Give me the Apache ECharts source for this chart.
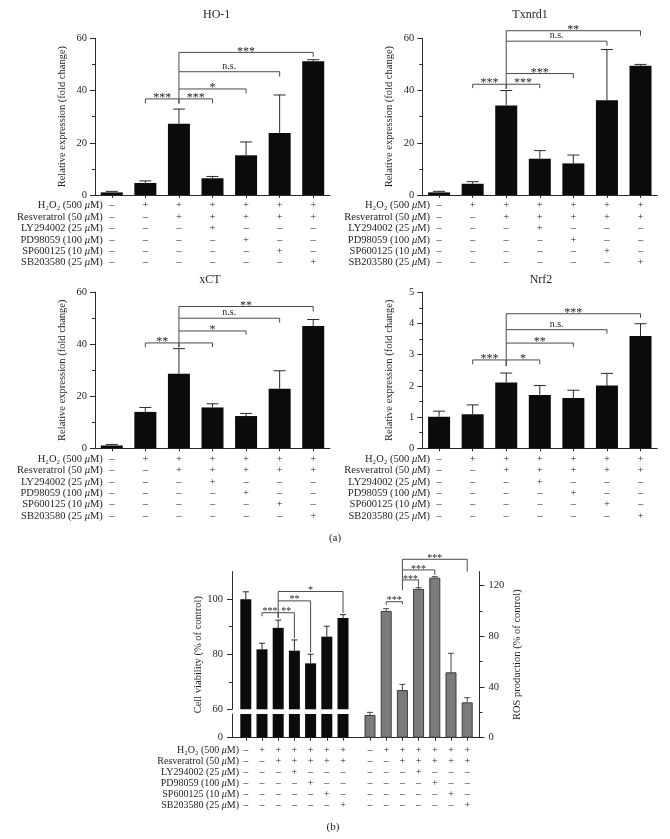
<!DOCTYPE html>
<html><head><meta charset="utf-8">
<script src="https://cdn.jsdelivr.net/npm/echarts@6/dist/echarts.min.js"></script>
<style>html,body{margin:0;padding:0;background:#fff}#c{width:670px;height:839px}</style>
</head><body><div id="c"></div>
<script>
const FONT = '"Liberation Serif","Times New Roman","DejaVu Serif",serif';
const INK = '#1e1e1e';

// ---- treatment table (tick labels) ----
const treatmentNames = ['H₂O₂ (500 μM)','Resveratrol (50 μM)','LY294002 (25 μM)','PD98059 (100 μM)','SP600125 (10 μM)','SB203580 (25 μM)'];
const treatmentSigns = [
  ['–','+','+','+','+','+','+'],
  ['–','–','+','+','+','+','+'],
  ['–','–','–','+','–','–','–'],
  ['–','–','–','–','+','–','–'],
  ['–','–','–','–','–','+','–'],
  ['–','–','–','–','–','–','+']
];
const columnLabels = treatmentSigns[0].map((_, c) => treatmentSigns.map(r => r[c]).join('\n'));

// ---- panel (a) values ----
const panelTitles = ['HO-1','Txnrd1','xCT','Nrf2'];
const ho1Mean = [1.0, 4.6, 27.3, 6.4, 15.2, 23.7, 51.2];
const ho1Err  = [1.4, 5.4, 32.9, 7.1, 20.3, 38.3, 51.8];
const txnMean = [1.0, 4.3, 34.3, 13.9, 12.1, 36.3, 49.5];
const txnErr  = [1.4, 5.1, 40.0, 17.0, 15.3, 55.7, 50.0];
const xctMean = [1.1, 14.0, 28.7, 15.7, 12.4, 22.9, 47.0];
const xctErr  = [1.5, 15.7, 38.3, 17.1, 13.4, 29.8, 49.5];
const nrfMean = [1.01, 1.09, 2.11, 1.71, 1.61, 2.01, 3.60];
const nrfErr  = [1.19, 1.39, 2.41, 2.01, 1.86, 2.40, 3.99];
const yMaxA = [60, 60, 60, 5];
const yStepA = [20, 20, 20, 1];

// brackets: [fromBar, toBar, height, fromEnd, toEnd]
const ho1Brackets = [[1,2,36.8,35.1,35.0],[2,3,36.8,35.0,35.1],[2,4,40.6,36.8,38.9],[2,5,47.2,40.6,45.3],[2,6,54.6,47.2,52.9]];
const ho1Marks = ['***','***','*','n.s.','***'];
const txnBrackets = [[1,2,42.4,40.9,40.6],[2,3,42.4,40.6,40.9],[2,4,46.5,42.4,44.7],[2,5,58.9,46.5,57.1],[2,6,62.9,58.9,61.0]];
const txnMarks = ['***','***','***','n.s.','**'];
const xctBrackets = [[1,2,40.5,38.9,38.8],[2,3,40.5,38.8,38.9],[2,4,45.1,40.5,43.7],[2,5,50.0,45.1,48.3],[2,6,54.5,50.0,52.6]];
const xctMarks = ['**','','*','n.s.','**'];
const nrfBrackets = [[1,2,2.83,2.69,2.63],[2,3,2.83,2.63,2.69],[2,4,3.37,2.83,3.25],[2,5,3.80,3.37,3.67],[2,6,4.31,3.80,4.18]];
const nrfMarks = ['***','*','**','n.s.','***'];

// ---- panel (b) values ----
const cellMean = [100, 81.8, 89.6, 81.3, 76.7, 86.4, 93.2];
const cellErr  = [102.7, 84.0, 92.4, 85.2, 80.0, 90.2, 94.4];
const rosMean  = [17.9, 100, 37.6, 117.4, 126.3, 51.6, 27.9];
const rosErr   = [20.0, 101.8, 42.1, 118.4, 127.1, 66.6, 31.6];
const cellBrackets = [[1,2,95.1,93.8,93.2],[2,3,95.1,93.2,85.8],[2,4,99.4,95.1,80.6],[2,6,102.8,99.4,95.0]];
const cellMarks = ['***','**','**','*'];
const rosBrackets = [[1,2,107.3,104.7,105.3],[2,3,124.5,116.6,119.2],[2,4,132.4,124.5,128.4],[2,6,140.8,132.4,131.0]];
const rosMarks = ['***','***','***','***'];
const cellTicks = [60, 80, 100], cellMinor = [70, 90];
const rosTicks = [0, 40, 80, 120], rosMinor = [20, 60, 100];

// ---- layout ----
const A = [
  {left:95, top:38.3, height:156.7, tx:216.7, ty:15},
  {left:422.3, top:38.3, height:156.7, tx:530, ty:15},
  {left:95, top:292.2, height:156.1, tx:210, ty:280},
  {left:422.3, top:292.2, height:156.1, tx:541, ty:280}
];
const AW = 235;
const B = {cellLeft:237.7, rosLeft:361.9, gw:113.4, top:571.7, upperBottom:709.3, lowerTop:714, base:737.7, axisL:232, axisR:479.5};

const grid = [], xAxis = [], yAxis = [], series = [], graphic = [];

function txt(text, x, y, fs, align, extra) {
  return Object.assign({type:'text', x, y, silent:true, style:{text, fill:INK, fontFamily:FONT, fontSize:fs,
    align, verticalAlign:'middle', textAlign:align, textVerticalAlign:'middle'}}, extra || {});
}
function richName(name, x, y, fs) {
  const p = name.split('μ');
  return {type:'text', x, y, silent:true, style:{
    text:'{n|' + p[0] + '}{i|μ}{n|' + p[1] + '}', fill:INK, fontFamily:FONT, fontSize:fs,
    align:'right', verticalAlign:'middle', textAlign:'right', textVerticalAlign:'middle',
    rich:{n:{fontFamily:FONT, fontSize:fs, fill:INK, color:INK}, i:{fontFamily:FONT, fontSize:fs, fontStyle:'italic', fill:INK, color:INK}}}};
}
function addTable(firstColX, gap, axisY, margin, lh, fs) {
  treatmentNames.forEach((nm, k) => graphic.push(richName(nm, firstColX - gap, axisY + margin + lh * (k + 0.5), fs)));
}
function errSeries(xi, yi, mean, err, capW, color) {
  return {type:'custom', xAxisIndex:xi, yAxisIndex:yi, silent:true, z:3,
    data: mean.map((m, i) => [i, err[i], m]), encode:{x:0, y:1},
    renderItem: (params, api) => {
      const i = api.value(0);
      const t = api.coord([i, api.value(1)]);
      const b = api.coord([i, api.value(2)]);
      const st = {stroke:color, lineWidth:1};
      return {type:'group', children:[
        {type:'line', shape:{x1:t[0], y1:b[1], x2:t[0], y2:t[1]}, style:st},
        {type:'line', shape:{x1:t[0]-capW/2, y1:t[1], x2:t[0]+capW/2, y2:t[1]}, style:st}
      ]};
    }};
}
function bracketSeries(xi, yi, brackets, marks, starSize) {
  return {type:'custom', xAxisIndex:xi, yAxisIndex:yi, silent:true, clip:false, z:4,
    data: brackets, encode:{x:0, y:2},
    renderItem: (params, api) => {
      const a = api.value(0), b = api.value(1), h = api.value(2);
      const pA = api.coord([a, api.value(3)]), pA2 = api.coord([a, h]);
      const pB2 = api.coord([b, h]), pB = api.coord([b, api.value(4)]);
      const lab = marks[params.dataIndex];
      const star = lab.indexOf('*') >= 0;
      const ch = [{type:'polyline', shape:{points:[pA, pA2, pB2, pB]}, style:{stroke:'#4a4a4a', lineWidth:1, fill:null}}];
      if (lab) ch.push({type:'text', style:{text:lab, x:(pA2[0]+pB2[0])/2, y:pA2[1] - (star ? 1 : 5.5),
        fill:INK, fontFamily:FONT, fontSize: star ? starSize : 10,
        align:'center', verticalAlign:'middle', textAlign:'center', textVerticalAlign:'middle'}});
      return {type:'group', children:ch};
    }};
}
const axisLineStyle = {color:'#2a2a2a', width:1};
const tickLabel = {fontFamily:FONT, fontSize:10.5, color:INK};

// ---- panel (a) ----
const meansA = [ho1Mean, txnMean, xctMean, nrfMean];
const errsA = [ho1Err, txnErr, xctErr, nrfErr];
const brA = [ho1Brackets, txnBrackets, xctBrackets, nrfBrackets];
const mkA = [ho1Marks, txnMarks, xctMarks, nrfMarks];
A.forEach((L, k) => {
  grid.push({left:L.left, top:L.top, width:AW, height:L.height, containLabel:false, outerBoundsMode:'none'});
  xAxis.push({type:'category', gridIndex:k, data:columnLabels,
    axisLine:{show:true, lineStyle:axisLineStyle},
    axisTick:{show:true, alignWithLabel:true, length:3, lineStyle:axisLineStyle},
    axisLabel:{interval:0, margin:5, lineHeight:11.4, fontSize:10.5, fontFamily:FONT, color:INK}});
  yAxis.push({type:'value', gridIndex:k, min:0, max:yMaxA[k], interval:yStepA[k],
    axisLine:{show:true, lineStyle:axisLineStyle},
    axisTick:{show:true, length:5, lineStyle:axisLineStyle},
    minorTick:{show:true, splitNumber:2, length:3, lineStyle:axisLineStyle},
    splitLine:{show:false},
    axisLabel:Object.assign({margin:8}, tickLabel),
    name:'Relative expression (fold change)', nameLocation:'middle', nameGap:27.5,
    nameTextStyle:{fontFamily:FONT, fontSize:10.5, color:INK}});
  series.push({type:'bar', xAxisIndex:k, yAxisIndex:k, data:meansA[k], barWidth:22, silent:true,
    itemStyle:{color:'#0b0b0b'}});
  series.push(errSeries(k, k, meansA[k], errsA[k], 12, '#2a2a2a'));
  series.push(bracketSeries(k, k, brA[k], mkA[k], 12));
  graphic.push(txt(panelTitles[k], L.tx, L.ty, 12, 'center'));
  addTable(L.left + AW / 14, 9, L.top + L.height, 5, 11.4, 10.5);
});
graphic.push(txt('(a)', 335, 538, 11, 'center'));

// ---- panel (b) ----
// grid 4: cell viability upper (broken axis), grid 5: lower stub, grid 6: ROS, grid 7: baseline
grid.push({left:B.cellLeft, top:B.top, width:B.gw, height:B.upperBottom - B.top, outerBoundsMode:'none'});
grid.push({left:B.cellLeft, top:B.lowerTop, width:B.gw, height:B.base - B.lowerTop, outerBoundsMode:'none'});
grid.push({left:B.rosLeft, top:B.top, width:B.gw, height:B.base - B.top, outerBoundsMode:'none'});
grid.push({left:B.axisL, top:B.base - 1, width:B.axisR - B.axisL, height:1, outerBoundsMode:'none'});

const bLabel = {interval:0, margin:6.8, lineHeight:11.06, fontSize:10, fontFamily:FONT, color:INK};
xAxis.push({type:'category', gridIndex:4, data:columnLabels, show:false});
xAxis.push({type:'category', gridIndex:5, data:columnLabels, axisLine:{show:false},
  axisTick:{show:true, alignWithLabel:true, length:3, lineStyle:axisLineStyle}, axisLabel:bLabel});
xAxis.push({type:'category', gridIndex:6, data:columnLabels, axisLine:{show:false},
  axisTick:{show:true, alignWithLabel:true, length:3, lineStyle:axisLineStyle}, axisLabel:bLabel});
xAxis.push({type:'category', gridIndex:7, data:[''], axisLine:{show:true, lineStyle:axisLineStyle},
  axisTick:{show:false}, axisLabel:{show:false}});

const offL = B.cellLeft - B.axisL, offR = B.axisR - (B.rosLeft + B.gw);
// yAxis 4: cell upper
yAxis.push({type:'value', gridIndex:4, position:'left', min:60, max:110, offset:offL,
  axisLine:{show:true, lineStyle:axisLineStyle},
  axisTick:{show:true, length:5, customValues:cellTicks, lineStyle:axisLineStyle},
  axisLabel:Object.assign({margin:9, customValues:cellTicks}, tickLabel), splitLine:{show:false}});
// yAxis 5: cell lower stub
yAxis.push({type:'value', gridIndex:5, position:'left', min:0, max:10, offset:offL,
  axisLine:{show:true, lineStyle:axisLineStyle},
  axisTick:{show:true, length:5, customValues:[0], lineStyle:axisLineStyle},
  axisLabel:Object.assign({margin:9, customValues:[0]}, tickLabel), splitLine:{show:false}});
// yAxis 6: ROS (right)
yAxis.push({type:'value', gridIndex:6, position:'right', min:0, max:131, offset:offR,
  axisLine:{show:true, lineStyle:axisLineStyle},
  axisTick:{show:true, length:5, customValues:rosTicks, lineStyle:axisLineStyle},
  axisLabel:Object.assign({margin:9, customValues:rosTicks}, tickLabel), splitLine:{show:false},
  name:'ROS production (% of control)', nameLocation:'middle', nameGap:32, nameRotate:90,
  nameTextStyle:{fontFamily:FONT, fontSize:10.5, color:INK}});
// yAxis 7: baseline helper
yAxis.push({type:'value', gridIndex:7, show:false});
// yAxis 8/9: minor ticks
yAxis.push({type:'value', gridIndex:4, position:'left', min:60, max:110, offset:offL, axisLine:{show:false},
  axisTick:{show:true, length:3, customValues:cellMinor, lineStyle:axisLineStyle}, axisLabel:{show:false}, splitLine:{show:false}});
yAxis.push({type:'value', gridIndex:6, position:'right', min:0, max:131, offset:offR, axisLine:{show:false},
  axisTick:{show:true, length:3, customValues:rosMinor, lineStyle:axisLineStyle}, axisLabel:{show:false}, splitLine:{show:false}});

series.push({type:'bar', xAxisIndex:4, yAxisIndex:4, data:cellMean, barWidth:11, silent:true, clip:true, itemStyle:{color:'#0b0b0b'}});
series.push({type:'bar', xAxisIndex:5, yAxisIndex:5, data:cellMean, barWidth:11, silent:true, clip:true, itemStyle:{color:'#0b0b0b'}});
series.push(errSeries(4, 4, cellMean, cellErr, 6, '#2a2a2a'));
series.push(bracketSeries(4, 4, cellBrackets, cellMarks, 10));
series.push({type:'bar', xAxisIndex:6, yAxisIndex:6, data:rosMean, barWidth:11, silent:true, clip:true,
  itemStyle:{color:'#7b7b7b', borderColor:'#3a3a3a', borderWidth:1}});
series.push(errSeries(6, 6, rosMean, rosErr, 6, '#444'));
series.push(bracketSeries(6, 6, rosBrackets, rosMarks, 10));

addTable(B.cellLeft + B.gw / 14, 6.8, B.base, 6.8, 11.06, 10);
graphic.push(txt('Cell viability (% of control)', 198, (B.top + B.base) / 2, 10.5, 'center', {rotation:Math.PI/2}));
graphic.push(txt('(b)', 333, 827, 11, 'center'));

const chart = echarts.init(document.getElementById('c'), null, {renderer:'canvas'});
chart.setOption({animation:false, backgroundColor:'#fff', grid, xAxis, yAxis, series, graphic});
</script></body></html>
